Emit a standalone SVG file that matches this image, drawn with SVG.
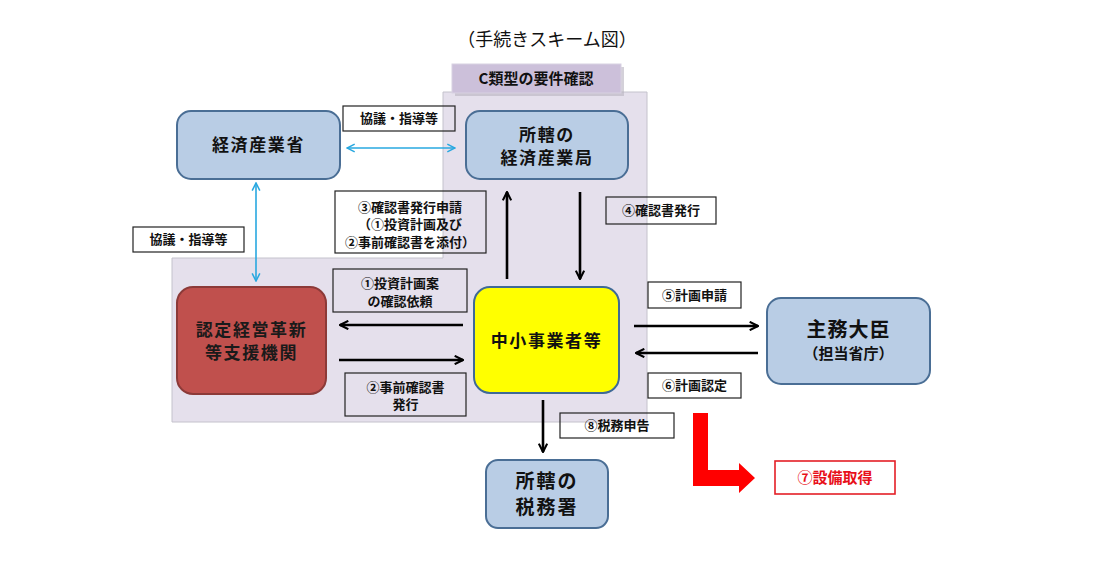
<svg xmlns="http://www.w3.org/2000/svg" width="1102" height="583" viewBox="0 0 1102 583">
<defs>
<marker id="ah" viewBox="0 0 10 10" refX="9" refY="5" markerWidth="4" markerHeight="4" orient="auto-start-reverse" markerUnits="strokeWidth">
<path d="M1,1 L9,5 L1,9" fill="none" stroke="#000" stroke-width="2"/>
</marker>
<marker id="ahb" viewBox="0 0 10 10" refX="9" refY="5" markerWidth="6" markerHeight="6" orient="auto-start-reverse" markerUnits="strokeWidth">
<path d="M1,1 L9,5 L1,9" fill="none" stroke="#29a8e0" stroke-width="1.6"/>
</marker>
</defs>
<style>
text{font-family:"Noto Sans CJK JP","Noto Sans CJK SC",sans-serif;text-anchor:middle;fill:#111}
.node{fill:#b9cde5;stroke:#4a6e95;stroke-width:2}
.lbl{fill:none;stroke:#222;stroke-width:1.2}
.arr{stroke:#000;stroke-width:2.6;fill:none;marker-end:url(#ah)}
.blue{stroke:#29a8e0;stroke-width:1.6;fill:none;marker-start:url(#ahb);marker-end:url(#ahb)}
.nt{font-size:17px;font-weight:bold;letter-spacing:1.6px}
.lt{font-size:13px;font-weight:bold}
</style>
<rect width="1102" height="583" fill="#fff"/>
<text x="547" y="46" style="font-size:18px">（手続きスキーム図）</text>

<g id="region">
<polygon points="443,92 647,92 647,422 172,422 172,258 443,258" fill="#e5e0ec" stroke="#c4c2cc" stroke-width="1"/>
<rect x="455" y="67" width="169" height="29" fill="#b8b3bf" opacity="0.6"/>
<rect x="452" y="64" width="169" height="29" fill="#ccc0da" stroke="#d8d2e2" stroke-width="1"/>
<text x="536" y="84" style="font-size:15px;font-weight:bold">C類型の要件確認</text>
</g>

<g id="connectors">
<line class="blue" x1="347" y1="148" x2="455" y2="148"/>
<line class="blue" x1="256" y1="183" x2="256" y2="281"/>
<line class="arr" x1="507" y1="279" x2="507" y2="192"/>
<line class="arr" x1="580" y1="192" x2="580" y2="279"/>
<line class="arr" x1="463" y1="325" x2="340" y2="325"/>
<line class="arr" x1="339" y1="360" x2="463" y2="360"/>
<line class="arr" x1="634" y1="326" x2="758" y2="326"/>
<line class="arr" x1="758" y1="353" x2="636" y2="353"/>
<line class="arr" x1="543" y1="400" x2="543" y2="452"/>
<polygon id="red-arrow" points="693,413 708,413 708,470 739,470 739,463 755,478 739,493 739,486 693,486" fill="#ff0000"/>
</g>

<g id="lbl-kyogi1"><rect class="lbl" x="343" y="106" width="112" height="25"/><text class="lt" x="399" y="123">協議・指導等</text></g>
<g id="lbl-kyogi2"><rect class="lbl" x="133" y="227" width="111" height="25"/><text class="lt" x="188.5" y="244">協議・指導等</text></g>
<g id="lbl-3"><rect class="lbl" x="335" y="191" width="151" height="62"/>
<text class="lt" x="410" y="211.5">③確認書発行申請<tspan x="410" dy="17.5">（①投資計画及び</tspan><tspan x="410" dy="17.5">②事前確認書を添付）</tspan></text></g>
<g id="lbl-4"><rect class="lbl" x="606" y="197" width="110" height="27"/><text class="lt" x="661" y="215">④確認書発行</text></g>
<g id="lbl-1"><rect class="lbl" x="333" y="269" width="134" height="43"/>
<text class="lt" x="400" y="287.5">①投資計画案<tspan x="400" dy="18">の確認依頼</tspan></text></g>
<g id="lbl-2"><rect class="lbl" x="345" y="373" width="121" height="43"/>
<text class="lt" x="405.5" y="391.5">②事前確認書<tspan x="405.5" dy="17">発行</tspan></text></g>
<g id="lbl-5"><rect class="lbl" x="648" y="282" width="93" height="26"/><text class="lt" x="694.5" y="299.5">⑤計画申請</text></g>
<g id="lbl-6"><rect class="lbl" x="648" y="373" width="93" height="25"/><text class="lt" x="694.5" y="390">⑥計画認定</text></g>
<g id="lbl-8"><rect class="lbl" x="560" y="413" width="114" height="25"/><text class="lt" x="617" y="430">⑧税務申告</text></g>
<g id="lbl-7"><rect x="775" y="461" width="120" height="33" fill="#fff" stroke="#e41e26" stroke-width="1.6"/><text x="835" y="483" style="font-size:15px;font-weight:bold;fill:#e8101a">⑦設備取得</text></g>

<g id="n-meti"><rect class="node" x="177" y="111" width="163" height="68" rx="14"/><text class="nt" x="258.5" y="151">経済産業省</text></g>
<g id="n-bureau"><rect class="node" x="466" y="111" width="162" height="68" rx="14"/>
<text class="nt" x="547" y="141">所轄の<tspan x="547" dy="23">経済産業局</tspan></text></g>
<g id="n-support"><rect x="177" y="287" width="149" height="107" rx="16" fill="#c0504d" stroke="#8c3a38" stroke-width="2"/>
<text class="nt" x="251.5" y="336" style="fill:#1a1a1a">認定経営革新<tspan x="251.5" dy="23">等支援機関</tspan></text></g>
<g id="n-sme"><rect x="474" y="287" width="145" height="106" rx="16" fill="#ffff00" stroke="#3f6a96" stroke-width="2"/>
<text class="nt" x="546.5" y="347">中小事業者等</text></g>
<g id="n-minister"><rect class="node" x="767" y="298" width="163" height="86" rx="14"/>
<text x="848.5" y="337" style="font-size:20px;font-weight:bold;letter-spacing:1px">主務大臣</text>
<text x="848.5" y="359" style="font-size:15px;font-weight:bold">（担当省庁）</text></g>
<g id="n-tax"><rect class="node" x="486" y="460" width="122" height="68" rx="12"/>
<text x="547" y="488" style="font-size:19px;font-weight:bold;letter-spacing:2px">所轄の<tspan x="547" dy="26">税務署</tspan></text></g>
</svg>
